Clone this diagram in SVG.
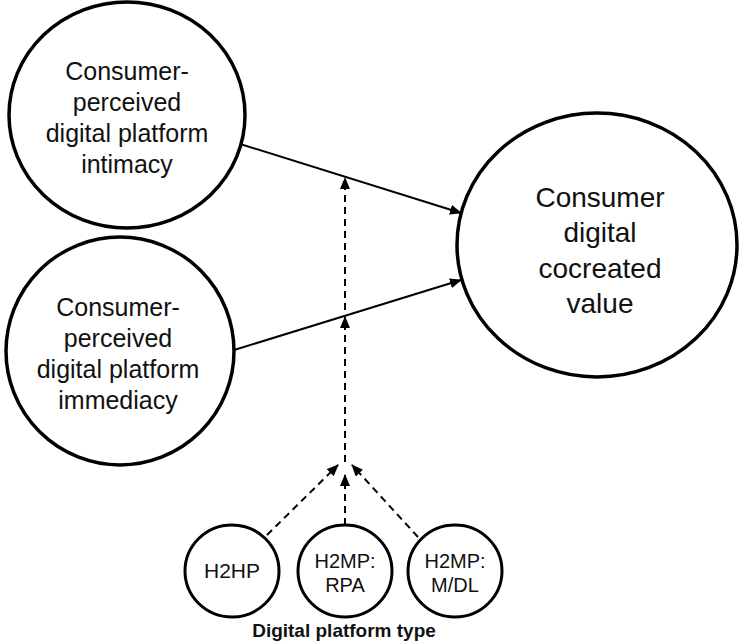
<svg xmlns="http://www.w3.org/2000/svg" width="741" height="642" viewBox="0 0 741 642">
<style>
.node{fill:#fff;stroke:#000;stroke-width:3.5}
.small{fill:#fff;stroke:#000;stroke-width:3}
.t{font-family:"Liberation Sans",Arial,sans-serif;fill:#111;text-anchor:middle}
.solid{stroke:#000;stroke-width:2;fill:none}
.dash{stroke:#000;stroke-width:2;fill:none;stroke-dasharray:7 5}
</style>
<defs>
<marker id="ah" markerWidth="12" markerHeight="10" refX="11" refY="5" orient="auto" markerUnits="userSpaceOnUse">
<path d="M0,0 L12,5 L0,10 Z" fill="#000"/>
</marker>
</defs>
<rect width="741" height="642" fill="#fff"/>
<g id="connectors">
<line class="solid" x1="237" y1="143" x2="461" y2="213" marker-end="url(#ah)"/>
<line class="solid" x1="234" y1="350" x2="461" y2="280" marker-end="url(#ah)"/>
<line class="dash" x1="345" y1="462" x2="345" y2="317" marker-end="url(#ah)"/>
<line class="dash" x1="345" y1="310" x2="345" y2="178" marker-end="url(#ah)"/>
<line class="dash" x1="267" y1="535" x2="338" y2="465" marker-end="url(#ah)"/>
<line class="dash" x1="345" y1="525" x2="345" y2="475" marker-end="url(#ah)"/>
<line class="dash" x1="418" y1="537" x2="352" y2="465" marker-end="url(#ah)"/>
</g>
<g id="intimacy">
<ellipse class="node" cx="127" cy="115" rx="118" ry="113"/>
<text class="t" font-size="25" x="127" y="80">Consumer-</text>
<text class="t" font-size="25" x="127" y="111">perceived</text>
<text class="t" font-size="25" x="127" y="142">digital platform</text>
<text class="t" font-size="25" x="127" y="173">intimacy</text>
</g>
<g id="immediacy">
<ellipse class="node" cx="120" cy="351" rx="114" ry="114"/>
<text class="t" font-size="25" x="118" y="316">Consumer-</text>
<text class="t" font-size="25" x="118" y="347">perceived</text>
<text class="t" font-size="25" x="118" y="378">digital platform</text>
<text class="t" font-size="25" x="118" y="409">immediacy</text>
</g>
<g id="value">
<ellipse class="node" cx="597" cy="245" rx="140" ry="132"/>
<text class="t" font-size="28" x="600" y="207">Consumer</text>
<text class="t" font-size="28" x="600" y="242">digital</text>
<text class="t" font-size="28" x="600" y="278">cocreated</text>
<text class="t" font-size="28" x="600" y="313">value</text>
</g>
<g id="h2hp">
<ellipse class="small" cx="232" cy="571" rx="47" ry="46"/>
<text class="t" font-size="21" x="232" y="578">H2HP</text>
</g>
<g id="rpa">
<ellipse class="small" cx="345" cy="571" rx="47" ry="46"/>
<text class="t" font-size="20" x="345" y="568">H2MP:</text>
<text class="t" font-size="20" x="345" y="592">RPA</text>
</g>
<g id="mdl">
<ellipse class="small" cx="455" cy="571" rx="47" ry="46"/>
<text class="t" font-size="20" x="455" y="568">H2MP:</text>
<text class="t" font-size="20" x="455" y="592">M/DL</text>
</g>
<g id="label">
<text class="t" font-size="19" font-weight="bold" x="344" y="637">Digital platform type</text>
</g>
</svg>
